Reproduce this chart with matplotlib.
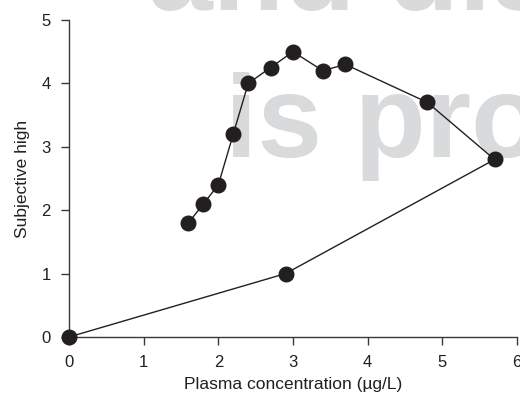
import matplotlib.pyplot as plt

# plasma concentration (ug/L) and subjective high, in time order
conc = [0.0, 2.9, 5.7, 4.8, 3.7, 3.4, 3.0, 2.7, 2.4, 2.2, 2.0, 1.8, 1.6]
high = [0.0, 1.0, 2.8, 3.7, 4.3, 4.2, 4.5, 4.25, 4.0, 3.2, 2.4, 2.1, 1.8]

x_ticks = [0, 1, 2, 3, 4, 5, 6]
y_ticks = [0, 1, 2, 3, 4, 5]

plt.rcParams['font.family'] = ['Liberation Sans', 'DejaVu Sans']

fig = plt.figure(figsize=(5.2, 4), dpi=100)
ax = fig.add_axes([0.1327, 0.1575, 0.8615, 0.7925])
ax.set_zorder(2)
ax.set_facecolor('none')

# watermark text behind the chart
fig.text(0.285, 0.975, "and dis", fontsize=84, fontweight='bold',
         color='#d9dadc', ha='left', va='baseline', zorder=-1)
fig.text(0.432, 0.6075, "is pro", fontsize=84, fontweight='bold',
         color='#d9dadc', ha='left', va='baseline', zorder=-1)

ax.plot(conc, high, color='#231f20', linewidth=1.0, marker='o',
        markersize=10.5, markerfacecolor='#231f20', markeredgecolor='#231f20',
        clip_on=False, zorder=3)

ax.set_xlim(0, 6)
ax.set_ylim(0, 5)
ax.set_xticks(x_ticks)
ax.set_yticks(y_ticks)
for s in ['top', 'right']:
    ax.spines[s].set_visible(False)
for s in ['left', 'bottom']:
    ax.spines[s].set_color('#3a3a3a')
    ax.spines[s].set_linewidth(1.0)
ax.tick_params(direction='out', length=6, width=1.0, color='#3a3a3a',
               labelsize=12, labelcolor='#231f20', pad=7)
ax.set_xlabel("Plasma concentration (\u00b5g/L)", fontsize=12.5,
              color='#231f20', labelpad=5)
ax.set_ylabel("Subjective high", fontsize=12.5, color='#231f20', labelpad=8)

fig.savefig('out.png', dpi=100)
